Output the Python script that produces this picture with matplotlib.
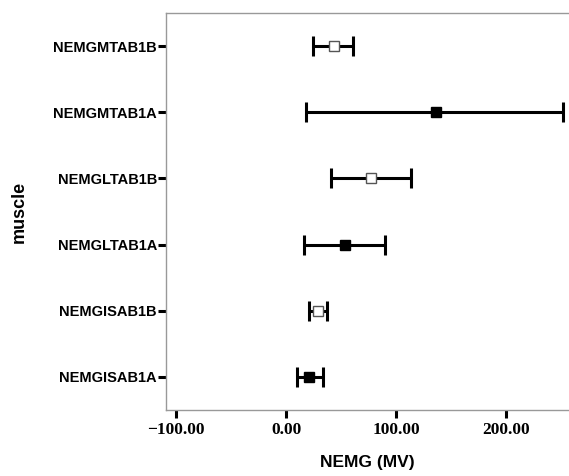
import matplotlib
matplotlib.use("Agg")
import matplotlib.pyplot as plt

categories = ["NEMGISAB1A", "NEMGISAB1B", "NEMGLTAB1A", "NEMGLTAB1B", "NEMGMTAB1A", "NEMGMTAB1B"]
means = [21.2, 29.4, 53.9, 77.3, 136.0, 43.4]
lower = [9.7, 20.9, 16.6, 40.6, 18.2, 24.8]
upper = [33.4, 37.0, 90.3, 113.6, 252.0, 61.2]
filled = [True, False, True, False, True, False]
xticks = [-100, 0, 100, 200]
xtick_labels = ["\u2212100.00", "0.00", "100.00", "200.00"]

fig = plt.figure(figsize=(5.69, 4.76), dpi=100)
ax = fig.add_axes([166/569, 1-410/476, (569-166)/569, (410-13)/476])

for i, (m, lo, hi, f) in enumerate(zip(means, lower, upper, filled)):
    ax.errorbar([m], [i], xerr=[[m - lo], [hi - m]], fmt='none', ecolor='black',
                elinewidth=2.2, capsize=7, capthick=2.2, zorder=2)
    if f:
        ax.plot([m], [i], marker='s', markersize=7, color='black', zorder=3)
    else:
        ax.plot([m], [i], marker='s', markersize=6.5, markerfacecolor='white',
                markeredgecolor='#555555', markeredgewidth=1.0, linestyle='none', zorder=3)

ax.set_xlim(-109, 257)
ax.set_ylim(-0.5, 5.5)
ax.set_yticks(range(len(categories)))
ax.set_yticklabels(categories, fontfamily='Liberation Sans', fontweight='bold', fontsize=10.5)
ax.set_xticks(xticks)
ax.set_xticklabels(xtick_labels, fontfamily='Liberation Serif', fontweight='bold', fontsize=12.5)
ax.tick_params(axis='both', direction='out', length=6, width=2.2, color='black')
ax.tick_params(axis='y', pad=0.5)
ax.tick_params(axis='x', pad=3)

for s in ['top', 'left', 'bottom']:
    ax.spines[s].set_color('#999999')
    ax.spines[s].set_linewidth(1.0)
ax.spines['right'].set_visible(False)

ax.set_xlabel("NEMG (MV)", fontfamily='Liberation Sans', fontweight='bold', fontsize=12.5, labelpad=12)
ax.set_ylabel("muscle", fontfamily='Liberation Sans', fontweight='bold', fontsize=13)
ax.yaxis.set_label_coords(-(166 - 28) / 403, 0.5)

fig.savefig("out.png", dpi=100)
